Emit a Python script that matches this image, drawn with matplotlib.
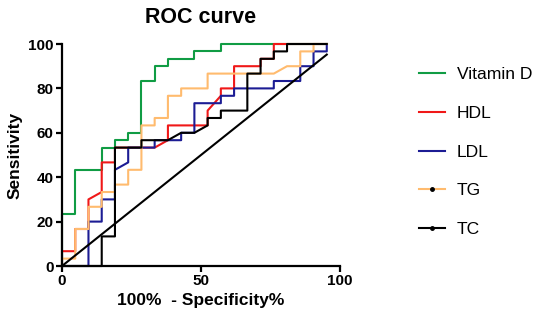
import matplotlib
matplotlib.use("Agg")
import matplotlib.pyplot as plt
from matplotlib.lines import Line2D

plt.rcParams['font.family'] = ['Liberation Sans', 'DejaVu Sans']

# ROC curve vertices (100% - specificity%, sensitivity%)
vitd_x = [0, 0, 4.76, 4.76, 14.29, 14.29, 19.05, 19.05, 23.81, 23.81, 28.57, 28.57,
          33.33, 33.33, 38.10, 38.10, 47.62, 47.62, 57.14, 57.14, 95.24]
vitd_y = [0, 23.33, 23.33, 43.33, 43.33, 53.33, 53.33, 56.67, 56.67, 60.00, 60.00, 83.33,
          83.33, 90.00, 90.00, 93.33, 93.33, 96.67, 96.67, 100, 100]

hdl_x = [0, 0, 4.76, 4.76, 9.52, 9.52, 14.29, 14.29, 19.05, 19.05, 33.33, 38.10, 38.10,
         52.38, 52.38, 57.14, 57.14, 61.90, 61.90, 71.43, 71.43, 76.19, 76.19, 95.24]
hdl_y = [0, 6.67, 6.67, 16.67, 16.67, 30.00, 33.33, 46.67, 46.67, 53.33, 53.33, 56.67, 63.33,
         63.33, 70.00, 76.67, 80.00, 80.00, 90.00, 90.00, 93.33, 93.33, 100, 100]

ldl_x = [0, 9.52, 9.52, 14.29, 14.29, 19.05, 19.05, 23.81, 23.81, 33.33, 33.33, 42.86,
         42.86, 47.62, 47.62, 57.14, 57.14, 61.90, 61.90, 76.19, 76.19, 85.71, 85.71, 90.48,
         90.48, 95.24, 95.24]
ldl_y = [0, 0, 20.00, 20.00, 30.00, 30.00, 43.33, 46.67, 53.33, 53.33, 56.67, 56.67, 60.00,
         60.00, 73.33, 73.33, 76.67, 76.67, 80.00, 80.00, 83.33, 83.33, 90.00, 90.00, 96.67,
         96.67, 100]

tg_x = [0, 0, 4.76, 4.76, 9.52, 9.52, 14.29, 14.29, 19.05, 19.05, 23.81, 23.81, 28.57,
        28.57, 33.33, 33.33, 38.10, 38.10, 42.86, 42.86, 52.38, 52.38, 76.19, 80.95, 85.71,
        85.71, 90.48, 90.48, 95.24]
tg_y = [0, 3.33, 3.33, 16.67, 16.67, 26.67, 26.67, 33.33, 33.33, 36.67, 36.67, 43.33, 43.33,
        63.33, 63.33, 66.67, 66.67, 76.67, 76.67, 80.00, 80.00, 86.67, 86.67, 90.00, 90.00,
        96.67, 96.67, 100, 100]

tc_x = [0, 14.29, 14.29, 19.05, 19.05, 28.57, 28.57, 38.10, 42.86, 47.62, 52.38, 52.38,
        57.14, 57.14, 66.67, 66.67, 71.43, 71.43, 76.19, 76.19, 80.95, 80.95, 95.24]
tc_y = [0, 0, 13.33, 13.33, 53.33, 53.33, 56.67, 56.67, 60.00, 60.00, 63.33, 66.67, 66.67,
        70.00, 70.00, 86.67, 86.67, 93.33, 93.33, 96.67, 96.67, 100, 100]

ref_x = [0, 95.24]
ref_y = [0, 95.24]

labels = ['Vitamin D', 'HDL', 'LDL', 'TG', 'TC']
colors = ['#109c44', '#f01818', '#1c1c94', '#ffbb6e', '#000000']
curves = [(vitd_x, vitd_y), (hdl_x, hdl_y), (ldl_x, ldl_y), (tg_x, tg_y), (tc_x, tc_y)]

fig = plt.figure(figsize=(5.36, 3.19), dpi=100)
ax = fig.add_axes([62 / 536, 53 / 319, 278 / 536, 222 / 319])

for (xs, ys), c in zip(curves, colors):
    ax.plot(xs, ys, color=c, lw=1.5, clip_on=False)
ax.plot(ref_x, ref_y, color='black', lw=1.5, clip_on=False)

ax.set_xlim(0, 100)
ax.set_ylim(0, 100)
ax.set_xticks([0, 50, 100])
ax.set_yticks([0, 20, 40, 60, 80, 100])
for side in ['top', 'right']:
    ax.spines[side].set_visible(False)
for side in ['left', 'bottom']:
    ax.spines[side].set_linewidth(1.6)
ax.tick_params(width=1.6, length=4, labelsize=11, pad=2)
for t in ax.get_xticklabels() + ax.get_yticklabels():
    t.set_fontweight('bold')

ax.set_xlabel('100%  - Specificity%', fontsize=12.5, fontweight='bold', labelpad=3)
ax.set_ylabel('Sensitivity', fontsize=12.5, fontweight='bold', labelpad=4)
ax.set_title('ROC curve', fontsize=15.5, fontweight='bold', pad=15)

handles = []
for lab, c in zip(labels, colors):
    if lab in ('TG', 'TC'):
        handles.append(Line2D([], [], color=c, lw=1.5, marker='o', markersize=2.5,
                              markerfacecolor='black', markeredgecolor='black'))
    else:
        handles.append(Line2D([], [], color=c, lw=1.5))
fig.legend(handles, labels, loc='upper left', bbox_to_anchor=(412 / 536, 1 - 60 / 319),
           frameon=False, fontsize=12.6, handlelength=1.5, handletextpad=0.65,
           labelspacing=1.34, borderaxespad=0)

fig.savefig('out.png', dpi=100)
